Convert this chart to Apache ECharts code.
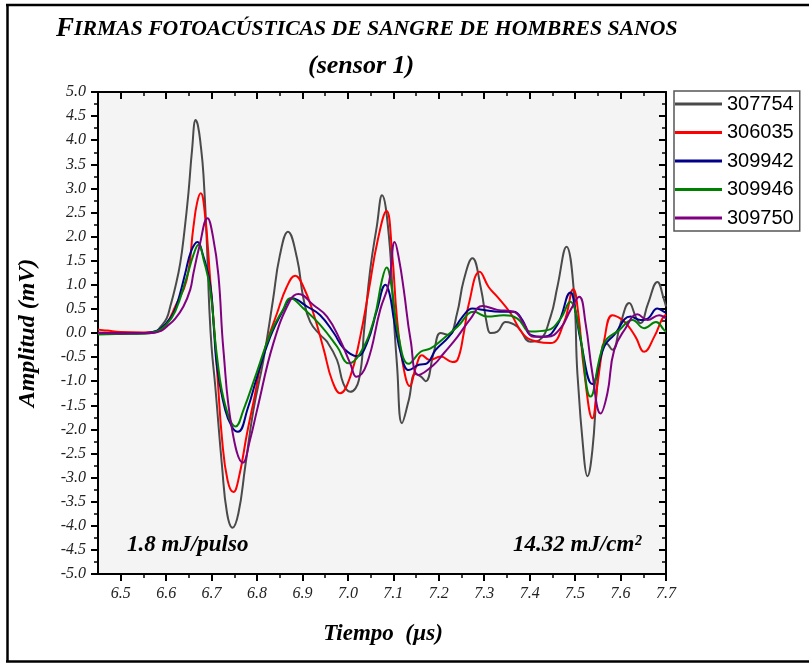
<!DOCTYPE html>
<html>
<head>
<meta charset="utf-8">
<script src="https://cdn.jsdelivr.net/npm/echarts@6/dist/echarts.min.js"></script>
<style>html,body{margin:0;padding:0;background:#fff}#c{width:809px;height:664px}</style>
</head>
<body>
<div id="c"></div>
<script>
// ---- data (time in µs, amplitude in mV) ----
const seriesNames = ['307754', '306035', '309942', '309946', '309750'];
const seriesColors = ['#4a4a4a', '#ff0000', '#00008b', '#008000', '#800080'];

const s307754 = [[6.45,0.01],[6.5,0.0],[6.55,-0.01],[6.575,0.01],[6.587,0.12],[6.601,0.3],[6.609,0.55],[6.62,0.95],[6.631,1.45],[6.64,2.1],[6.649,2.9],[6.657,3.8],[6.665,4.42],[6.67,4.3],[6.676,3.9],[6.682,3.3],[6.689,2.0],[6.695,0.5],[6.7,-0.3],[6.708,-1.1],[6.723,-2.77],[6.734,-3.74],[6.746,-4.04],[6.759,-3.74],[6.774,-2.77],[6.792,-1.6],[6.814,-0.56],[6.835,0.68],[6.85,1.6],[6.868,2.1],[6.888,1.55],[6.902,0.72],[6.917,0.23],[6.939,-0.04],[6.954,-0.18],[6.976,-0.56],[6.99,-1.05],[7.005,-1.22],[7.024,-0.98],[7.036,0.1],[7.049,1.31],[7.064,2.24],[7.075,2.86],[7.09,2.03],[7.101,0.3],[7.108,-0.66],[7.119,-1.87],[7.134,-1.39],[7.148,-0.85],[7.16,-0.9],[7.171,-1.0],[7.189,-0.4],[7.204,0.0],[7.222,-0.04],[7.24,0.4],[7.255,1.1],[7.274,1.55],[7.292,0.96],[7.307,0.13],[7.314,0.0],[7.329,0.03],[7.347,0.23],[7.373,0.13],[7.402,-0.18],[7.421,-0.15],[7.446,0.34],[7.461,0.96],[7.481,1.79],[7.497,0.89],[7.505,-0.84],[7.52,-2.63],[7.527,-2.97],[7.538,-2.43],[7.549,-1.04],[7.56,-0.28],[7.568,-0.22],[7.582,-0.35],[7.6,0.2],[7.619,0.62],[7.635,0.3],[7.644,0.2],[7.66,0.6],[7.681,1.06],[7.696,0.68],[7.7,0.55]];

const s306035 = [[6.45,0.07],[6.47,0.05],[6.5,0.02],[6.55,0.01],[6.58,0.03],[6.6,0.18],[6.62,0.55],[6.645,1.1],[6.66,2.2],[6.668,2.7],[6.676,2.9],[6.686,2.4],[6.697,1.1],[6.704,0.3],[6.713,-0.9],[6.723,-2.2],[6.735,-3.05],[6.748,-3.3],[6.76,-3.0],[6.778,-2.08],[6.795,-1.3],[6.807,-0.7],[6.825,-0.1],[6.844,0.41],[6.865,0.95],[6.884,1.19],[6.902,0.96],[6.924,0.41],[6.947,-0.35],[6.965,-0.98],[6.983,-1.25],[7.005,-0.91],[7.027,-0.08],[7.046,0.89],[7.065,1.9],[7.085,2.53],[7.097,1.69],[7.108,0.3],[7.122,-0.7],[7.136,-1.1],[7.15,-0.7],[7.163,-0.46],[7.18,-0.56],[7.204,-0.49],[7.23,-0.6],[7.241,-0.56],[7.255,0.0],[7.266,0.6],[7.29,1.27],[7.31,0.95],[7.329,0.75],[7.358,0.41],[7.387,-0.04],[7.417,-0.18],[7.446,-0.21],[7.476,0.23],[7.496,0.91],[7.507,0.4],[7.52,-0.8],[7.538,-1.77],[7.55,-1.0],[7.564,-0.15],[7.582,0.37],[7.6,0.3],[7.615,0.17],[7.633,-0.08],[7.652,-0.39],[7.674,-0.08],[7.692,0.3],[7.7,0.38]];

const s309942 = [[6.45,0.0],[6.5,-0.01],[6.55,0.0],[6.58,0.05],[6.6,0.2],[6.616,0.41],[6.63,0.8],[6.642,1.24],[6.655,1.7],[6.669,1.89],[6.68,1.65],[6.697,1.0],[6.705,0.1],[6.712,-0.7],[6.73,-1.6],[6.745,-1.95],[6.758,-2.05],[6.78,-1.55],[6.8,-0.91],[6.829,-0.08],[6.858,0.48],[6.877,0.72],[6.91,0.55],[6.939,0.37],[6.969,0.0],[6.991,-0.32],[7.02,-0.48],[7.042,-0.21],[7.064,0.48],[7.083,1.0],[7.092,0.8],[7.101,0.3],[7.119,-0.52],[7.134,-0.77],[7.156,-0.66],[7.174,-0.63],[7.193,-0.35],[7.222,-0.08],[7.255,0.37],[7.274,0.51],[7.296,0.48],[7.336,0.44],[7.365,0.44],[7.384,0.27],[7.402,-0.04],[7.431,-0.08],[7.461,0.17],[7.49,0.84],[7.5,0.5],[7.512,-0.15],[7.538,-1.06],[7.564,-0.28],[7.586,-0.04],[7.622,0.34],[7.644,0.27],[7.66,0.3],[7.681,0.51],[7.696,0.44],[7.7,0.42]];

const s309946 = [[6.45,-0.03],[6.5,-0.02],[6.55,-0.01],[6.58,0.04],[6.6,0.17],[6.62,0.45],[6.645,1.15],[6.66,1.62],[6.671,1.83],[6.683,1.5],[6.697,0.9],[6.712,-0.5],[6.73,-1.5],[6.753,-1.94],[6.77,-1.6],[6.8,-0.8],[6.83,0.0],[6.858,0.5],[6.873,0.72],[6.902,0.51],[6.939,0.17],[6.976,-0.28],[7.002,-0.63],[7.027,-0.42],[7.057,0.27],[7.075,1.1],[7.085,1.36],[7.097,0.9],[7.11,0.0],[7.134,-0.64],[7.16,-0.39],[7.182,-0.32],[7.211,-0.11],[7.241,0.13],[7.277,0.44],[7.307,0.34],[7.343,0.37],[7.373,0.3],[7.402,0.03],[7.439,0.06],[7.468,0.3],[7.489,0.65],[7.51,0.0],[7.534,-1.32],[7.564,-0.21],[7.597,0.06],[7.626,0.27],[7.652,0.1],[7.678,0.23],[7.696,0.06],[7.7,0.03]];

const s309750 = [[6.45,0.0],[6.5,-0.01],[6.57,0.0],[6.59,0.05],[6.601,0.13],[6.62,0.3],[6.638,0.55],[6.653,0.9],[6.66,1.24],[6.673,1.79],[6.691,2.38],[6.703,2.0],[6.715,1.2],[6.726,-0.35],[6.745,-2.0],[6.769,-2.69],[6.785,-2.2],[6.8,-1.6],[6.836,-0.21],[6.873,0.68],[6.891,0.81],[6.924,0.58],[6.954,0.34],[6.983,-0.15],[7.005,-0.63],[7.019,-0.91],[7.042,-0.63],[7.071,0.48],[7.09,1.03],[7.103,1.89],[7.113,1.5],[7.123,0.89],[7.138,-0.15],[7.156,-0.87],[7.189,-0.66],[7.211,-0.42],[7.241,-0.08],[7.27,0.3],[7.296,0.56],[7.329,0.48],[7.365,0.44],[7.387,0.2],[7.409,-0.08],[7.439,-0.08],[7.468,0.1],[7.49,0.48],[7.509,0.75],[7.523,0.2],[7.538,-0.84],[7.556,-1.67],[7.571,-1.25],[7.586,-0.35],[7.611,0.1],[7.637,0.39],[7.659,0.27],[7.685,0.37],[7.7,0.3]];

const seriesData = [s307754, s306035, s309942, s309946, s309750];

const xMajorTicks = [6.5,6.6,6.7,6.8,6.9,7.0,7.1,7.2,7.3,7.4,7.5,7.6,7.7];
const xMinorTicks = [6.55,6.65,6.75,6.85,6.95,7.05,7.15,7.25,7.35,7.45,7.55,7.65];
const xRange = [6.45, 7.7];
const yRange = [-5, 5];
const yStep = 0.5;

// ---- chart ----
const chart = echarts.init(document.getElementById('c'), null, {renderer: 'canvas'});
const serif = 'Liberation Serif';
const tickLine = {color: '#000', width: 2};
const minorLine = {color: '#000', width: 1.5};
const gridRect = {left: 98, top: 92, width: 568, height: 482};

const option = {
  animation: false,
  backgroundColor: '#fff',
  title: [
    {
      text: '{a|F}{b|IRMAS FOTOACÚSTICAS DE SANGRE DE HOMBRES SANOS}',
      left: 56, top: 16, padding: 0,
      textStyle: {
        rich: {
          a: {fontFamily: serif, fontStyle: 'italic', fontWeight: 'bold', fontSize: 27, color: '#000'},
          b: {fontFamily: serif, fontStyle: 'italic', fontWeight: 'bold', fontSize: 21.7, color: '#000'}
        }
      }
    },
    {
      text: '(sensor 1)', left: 308, top: 53, padding: 0,
      textStyle: {fontFamily: serif, fontStyle: 'italic', fontWeight: 'bold', fontSize: 26, color: '#000'}
    }
  ],
  legend: {
    orient: 'vertical', left: 674, top: 91,
    data: seriesNames,
    icon: 'rect', itemWidth: 47, itemHeight: 3, itemGap: 8.5,
    padding: [3, 6, 3, 1],
    borderColor: '#555', borderWidth: 1.5, backgroundColor: '#fff',
    textStyle: {fontFamily: 'Liberation Sans', fontSize: 20, color: '#000'}
  },
  grid: [
    Object.assign({show: true, backgroundColor: '#f4f4f4', borderWidth: 0}, gridRect),
    Object.assign({show: false}, gridRect)
  ],
  xAxis: [
    {
      gridIndex: 0, type: 'value', position: 'bottom', min: xRange[0], max: xRange[1],
      axisLine: {show: true, onZero: false, lineStyle: tickLine},
      axisTick: {show: true, customValues: xMajorTicks, length: 7, lineStyle: tickLine},
      axisLabel: {customValues: xMajorTicks, formatter: v => v.toFixed(1), margin: 12,
        fontFamily: serif, fontStyle: 'italic', fontSize: 16, color: '#222'},
      splitLine: {show: false}
    },
    {
      gridIndex: 0, type: 'value', position: 'top', min: xRange[0], max: xRange[1],
      axisLine: {show: true, onZero: false, lineStyle: tickLine},
      axisTick: {show: true, inside: true, customValues: xMajorTicks, length: 7, lineStyle: tickLine},
      axisLabel: {show: false}, splitLine: {show: false}
    },
    {
      gridIndex: 1, type: 'value', position: 'bottom', min: xRange[0], max: xRange[1],
      axisLine: {show: false, onZero: false},
      axisTick: {show: true, customValues: xMinorTicks, length: 4, lineStyle: minorLine},
      axisLabel: {show: false}, splitLine: {show: false}
    },
    {
      gridIndex: 1, type: 'value', position: 'top', min: xRange[0], max: xRange[1],
      axisLine: {show: false, onZero: false},
      axisTick: {show: true, inside: true, customValues: xMinorTicks, length: 4, lineStyle: minorLine},
      axisLabel: {show: false}, splitLine: {show: false}
    }
  ],
  yAxis: [
    {
      gridIndex: 0, type: 'value', position: 'left', min: yRange[0], max: yRange[1], interval: yStep,
      axisLine: {show: true, onZero: false, lineStyle: tickLine},
      axisTick: {show: true, length: 7, lineStyle: tickLine},
      minorTick: {show: true, splitNumber: 2, length: 4, lineStyle: minorLine},
      axisLabel: {formatter: v => v.toFixed(1), margin: 12,
        fontFamily: serif, fontStyle: 'italic', fontSize: 16, color: '#222'},
      splitLine: {show: false}, minorSplitLine: {show: false}
    },
    {
      gridIndex: 0, type: 'value', position: 'right', min: yRange[0], max: yRange[1], interval: yStep,
      axisLine: {show: true, onZero: false, lineStyle: tickLine},
      axisTick: {show: true, inside: true, length: 7, lineStyle: tickLine},
      minorTick: {show: true, splitNumber: 2, length: 4, lineStyle: minorLine},
      axisLabel: {show: false}, splitLine: {show: false}, minorSplitLine: {show: false}
    },
    {
      gridIndex: 1, type: 'value', min: yRange[0], max: yRange[1], show: false
    }
  ],
  series: seriesNames.map((name, i) => ({
    name: name, type: 'line', xAxisIndex: 0, yAxisIndex: 0,
    data: seriesData[i], showSymbol: false, smooth: 0.45,
    lineStyle: {color: seriesColors[i], width: 2}, itemStyle: {color: seriesColors[i]},
    emphasis: {disabled: true}
  })),
  graphic: [
    {type: 'line', shape: {x1: 6, y1: 5, x2: 809, y2: 5}, style: {stroke: '#000', lineWidth: 2.5}, silent: true},
    {type: 'line', shape: {x1: 7.5, y1: 5, x2: 7.5, y2: 662}, style: {stroke: '#000', lineWidth: 2.5}, silent: true},
    {type: 'line', shape: {x1: 6, y1: 661.5, x2: 809, y2: 661.5}, style: {stroke: '#000', lineWidth: 2.5}, silent: true},
    {type: 'text', x: 28, y: 333, rotation: Math.PI / 2,
      style: {text: 'Amplitud (mV)', fontFamily: serif, fontStyle: 'italic', fontWeight: 'bold', fontSize: 24,
        fill: '#000', textAlign: 'center', textVerticalAlign: 'middle'}},
    {type: 'text', x: 383, y: 634,
      style: {text: 'Tiempo  (µs)', fontFamily: serif, fontStyle: 'italic', fontWeight: 'bold', fontSize: 23,
        fill: '#000', textAlign: 'center', textVerticalAlign: 'middle'}},
    {type: 'text', x: 127, y: 545,
      style: {text: '1.8 mJ/pulso', fontFamily: serif, fontStyle: 'italic', fontWeight: 'bold', fontSize: 23,
        fill: '#000', textAlign: 'left', textVerticalAlign: 'middle'}},
    {type: 'text', x: 513, y: 545,
      style: {text: '14.32 mJ/cm²', fontFamily: serif, fontStyle: 'italic', fontWeight: 'bold', fontSize: 23,
        fill: '#000', textAlign: 'left', textVerticalAlign: 'middle'}}
  ]
};
chart.setOption(option);
</script>
</body>
</html>
